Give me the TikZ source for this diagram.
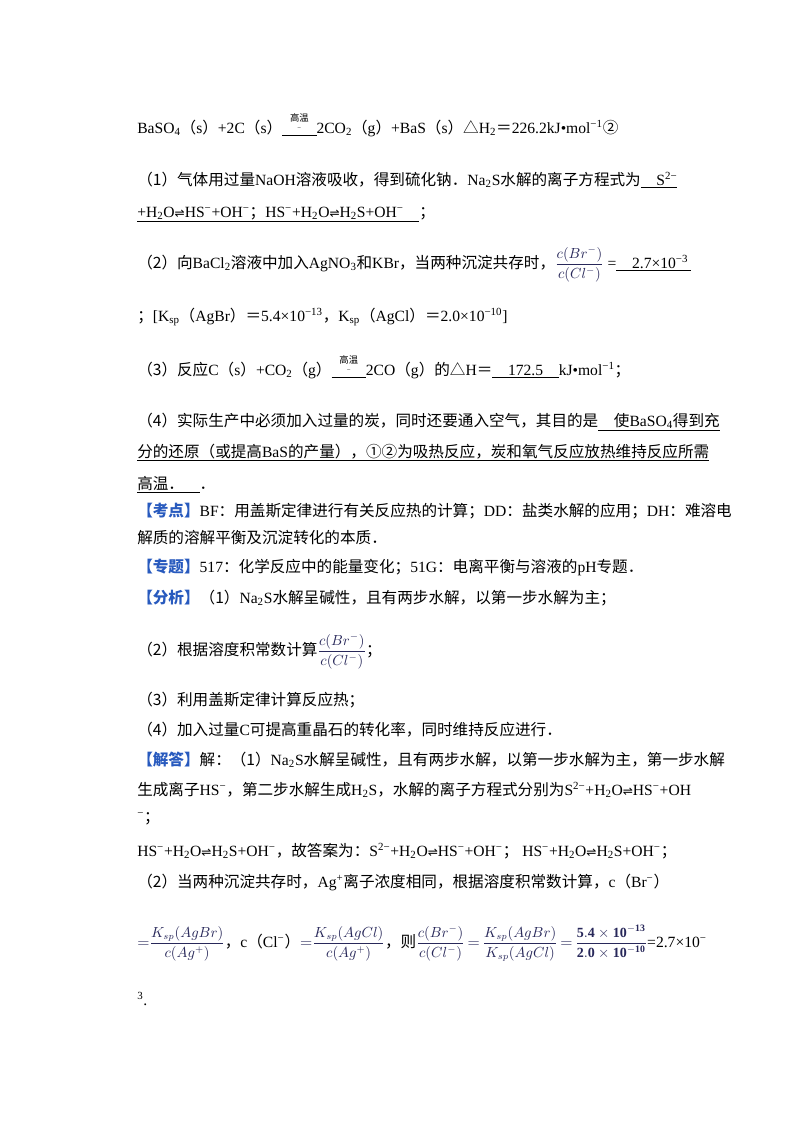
\documentclass[tikz,border=0pt]{standalone}
\usepackage{fontspec}
\setmainfont{Liberation Serif}
\newfontfamily\cjk{Noto Sans CJK SC}
\newfontfamily\dvs{DejaVu Sans}
\newcommand\z[1]{{\cjk #1}}
\newcommand\eqm{{\dvs\small ⇌}}
\newcommand\sbs[1]{\textsubscript{#1}}
\newcommand\sps[1]{\textsuperscript{#1}}
\newcommand\gw{\ensuremath{\mathop{\underline{\hbox to 2.2em{\hss\raisebox{2pt}{\tiny −}\hss}}}\limits^{\raisebox{3pt}{\hbox{\cjk\itshape\scriptsize 高温}}}}}
\newcommand\tag[1]{{\color{tagblue}\bfseries\cjk 【#1】}}
\definecolor{tagblue}{RGB}{40,90,190}
\definecolor{mblue}{RGB}{40,40,90}
\newcommand\fr[2]{{\fontsize{10.5pt}{12pt}\selectfont\color{mblue}$\displaystyle\frac{#1}{#2}$}}
\begin{document}
\begin{tikzpicture}[x=0.75pt,y=-0.75pt,every node/.style={anchor=base west,inner sep=0pt,font=\fontsize{11.7pt}{13pt}\selectfont}]
\useasboundingbox (0,0) rectangle (800,1132);
\node (l1) at (137,133) {BaSO\sbs{4}\z{（}s\z{）}+2C\z{（}s\z{）}\gw 2CO\sbs{2}\z{（}g\z{）}+BaS\z{（}s\z{）}\z{△}H\sbs{2}\z{＝}226.2kJ•mol\sps{−1}\z{②}};
\node (l2) at (137,185) {\z{（1）气体用过量}NaOH\z{溶液吸收，得到硫化钠．}Na\sbs{2}S\z{水解的离子方程式为}\underline{\hbox{\quad S\sps{2−}}}};
\node (l3) at (137,217) {\underline{\hbox{+H\sbs{2}O\eqm HS\sps{−}+OH\sps{−}\z{；}HS\sps{−}+H\sbs{2}O\eqm H\sbs{2}S+OH\sps{−}\quad}}\z{；}};
\node (l4) at (137,268) {\z{（2）向}BaCl\sbs{2}\z{溶液中加入}AgNO\sbs{3}\z{和}KBr\z{，当两种沉淀共存时，}\fr{c(Br^-)}{c(Cl^-)} =\underline{\hbox{\quad 2.7×10\sps{−3}\,}}};
\node (l5) at (137,321) {\z{；}[K\sbs{sp}\z{（}AgBr\z{）＝}5.4×10\sps{−13}\z{，}K\sbs{sp}\z{（}AgCl\z{）＝}2.0×10\sps{−10}]};
\node (l6) at (137,375) {\z{（3）反应}C\z{（}s\z{）}+CO\sbs{2}\z{（}g\z{）}\gw 2CO\z{（}g\z{）的△}H\z{＝}\underline{\hbox{\quad 172.5\quad}}kJ•mol\sps{−1}\z{；}};
\node (l7) at (137,426) {\z{（4）实际生产中必须加入过量的炭，同时还要通入空气，其目的是}\underline{\hbox{\quad\z{使}BaSO\sbs{4}\z{得到充}}}};
\node (l8) at (137,457) {\underline{\hbox{\z{分的还原（或提高}BaS\z{的产量），①②为吸热反应，炭和氧气反应放热维持反应所需}}}};
\node (l9) at (137,489) {\underline{\hbox{\z{高温．}\quad}}\z{．}};
\node (l10) at (137,516) {\tag{考点}BF\z{：用盖斯定律进行有关反应热的计算；}DD\z{：盐类水解的应用；}DH\z{：难溶电}};
\node (l11) at (137,543) {\z{解质的溶解平衡及沉淀转化的本质．}};
\node (l12) at (137,572) {\tag{专题}517\z{：化学反应中的能量变化；}51G\z{：电离平衡与溶液的}pH\z{专题．}};
\node (l13) at (137,603) {\tag{分析}\z{（1）}Na\sbs{2}S\z{水解呈碱性，且有两步水解，以第一步水解为主；}};
\node (l14) at (137,655) {\z{（2）根据溶度积常数计算}\fr{c(Br^-)}{c(Cl^-)}\z{；}};
\node (l15) at (137,705) {\z{（3）利用盖斯定律计算反应热；}};
\node (l16) at (137,735) {\z{（4）加入过量}C\z{可提高重晶石的转化率，同时维持反应进行．}};
\node (l17) at (137,765) {\tag{解答}\z{解：（1）}Na\sbs{2}S\z{水解呈碱性，且有两步水解，以第一步水解为主，第一步水解}};
\node (l18) at (137,795) {\z{生成离子}HS\sps{−}\z{，第二步水解生成}H\sbs{2}S\z{，水解的离子方程式分别为}S\sps{2−}+H\sbs{2}O\eqm HS\sps{−}+OH};
\node (l19) at (137,822) {\sps{−}\z{；}};
\node (l20) at (137,856) {HS\sps{−}+H\sbs{2}O\eqm H\sbs{2}S+OH\sps{−}\z{，故答案为：}S\sps{2−}+H\sbs{2}O\eqm HS\sps{−}+OH\sps{−}\z{；}\ HS\sps{−}+H\sbs{2}O\eqm H\sbs{2}S+OH\sps{−}\z{；}};
\node (l21) at (137,887) {\z{（2）当两种沉淀共存时，}Ag\sps{+}\z{离子浓度相同，根据溶度积常数计算，}c\z{（}Br\sps{−}\z{）}};
\node (l22) at (137,947) {{\color{mblue}$=$}\fr{K_{sp}(AgBr)}{c(Ag^+)}\z{，}c\z{（}Cl\sps{−}\z{）}{\color{mblue}$=$}\fr{K_{sp}(AgCl)}{c(Ag^+)}\z{，则}\fr{c(Br^-)}{c(Cl^-)}{\color{mblue}$\,=\,$}\fr{K_{sp}(AgBr)}{K_{sp}(AgCl)}{\color{mblue}$\,=\,$}\fr{\mathbf{5.4\times10^{-13}}}{\mathbf{2.0\times10^{-10}}}=2.7×10\sps{−}};
\node (l23) at (137,1005) {\sps{3}.};
\end{tikzpicture}
\end{document}
